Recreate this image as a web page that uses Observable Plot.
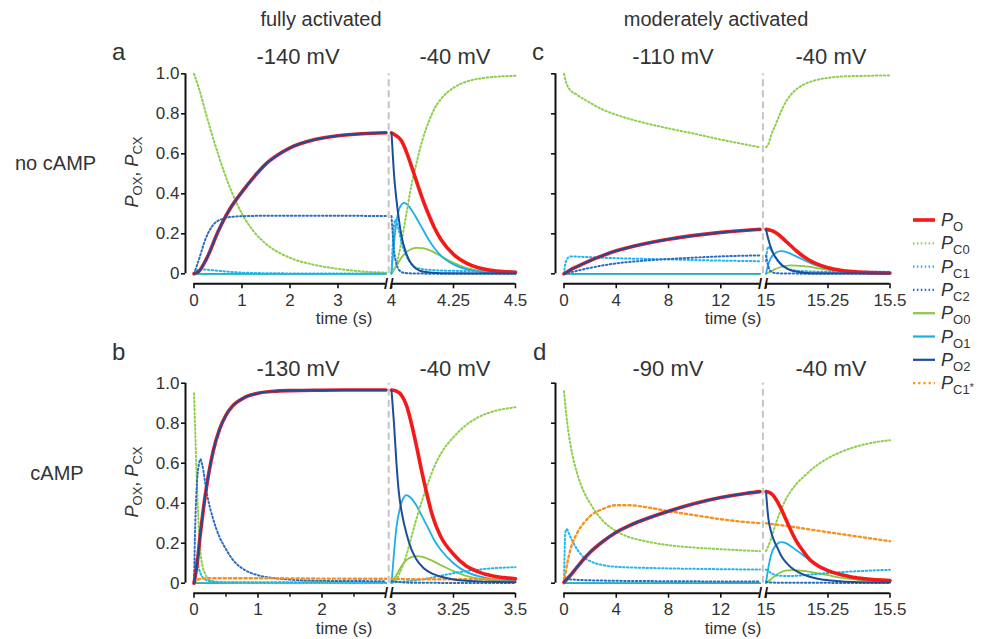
<!DOCTYPE html>
<html><head><meta charset="utf-8">
<script src="https://cdn.jsdelivr.net/npm/d3@7"></script>
<script src="https://cdn.jsdelivr.net/npm/@observablehq/plot@0.6"></script>
<style>
html,body{margin:0;padding:0;background:#fff;}
#root{position:relative;width:988px;height:639px;overflow:hidden;}
</style></head><body><div id="root"></div>
<script>
// ---------------- DATA ----------------
const colTitles = ["fully activated", "moderately activated"];
const rowLabels = ["no cAMP", "cAMP"];
const panelLetters = ["a", "b", "c", "d"];
const holdLabels = ["-140 mV", "-130 mV", "-110 mV", "-90 mV"];
const stepLabel = "-40 mV";
const timeLabel = "time (s)";
const yTicks = [0, 0.2, 0.4, 0.6, 0.8, 1.0];
const aDomL = [0, 4], aDomR = [4, 4.5], aTicksL = [0, 1, 2, 3], aTicksR = [4, 4.25, 4.5];
const bDomL = [0, 3], bDomR = [3, 3.5], bTicksL = [0, 1, 2], bMinorL = [0.5, 1.5, 2.5], bTicksR = [3, 3.25, 3.5];
const cdDomL = [0, 15], cdDomR = [15, 15.5], cdTicksL = [0, 4, 8, 12], cdTicksR = [15, 15.25, 15.5];
const seriesKeys = ["PO", "PC0", "PC1", "PC2", "PO0", "PO1", "PO2", "PC1s"];
const seriesSubs = ["O", "C0", "C1", "C2", "O0", "O1", "O2", "C1"];

// panel a (no cAMP, -140 mV)
const aL_PO = [[0,0],[0.1,0.012],[0.25,0.07],[0.5,0.21],[0.6,0.26],[0.75,0.325],[1,0.41],[1.25,0.485],[1.5,0.55],[1.75,0.595],[2,0.63],[2.5,0.67],[3,0.69],[3.5,0.7],[4,0.705]];
const aL_PO2 = [[0,0],[0.1,0.012],[0.25,0.07],[0.5,0.21],[0.6,0.26],[0.75,0.325],[1,0.41],[1.25,0.485],[1.5,0.55],[1.75,0.595],[2,0.63],[2.5,0.67],[3,0.69],[3.5,0.7],[4,0.705]];
const aL_PC0 = [[0,1.0],[0.1,0.93],[0.25,0.8],[0.5,0.6],[0.75,0.43],[1,0.3],[1.25,0.21],[1.5,0.15],[2,0.08],[2.5,0.045],[3,0.025],[3.5,0.012],[4,0.006]];
const aL_PC1 = [[0,0],[0.05,0.015],[0.15,0.022],[0.3,0.02],[0.5,0.015],[0.75,0.01],[1,0.006],[1.5,0.003],[2,0.002],[4,0.001]];
const aL_PC2 = [[0,0],[0.1,0.07],[0.25,0.18],[0.4,0.245],[0.6,0.275],[0.8,0.285],[1,0.288],[1.5,0.29],[2,0.29],[3,0.29],[4,0.289]];
const aL_PO0 = [[0,0],[4,0]];
const aL_PO1 = [[0,0],[4,0]];
const aR_PO = [[4,0.705],[4.02,0.69],[4.04,0.665],[4.06,0.61],[4.08,0.54],[4.1,0.465],[4.125,0.375],[4.15,0.295],[4.175,0.225],[4.2,0.17],[4.25,0.097],[4.3,0.055],[4.35,0.03],[4.4,0.018],[4.45,0.011],[4.5,0.008]];
const aR_PO2 = [[4,0.705],[4.005,0.6],[4.01,0.5],[4.02,0.37],[4.03,0.27],[4.04,0.19],[4.06,0.1],[4.08,0.05],[4.1,0.025],[4.13,0.01],[4.2,0.003],[4.5,0.001]];
const aR_PO1 = [[4,0],[4.01,0.15],[4.02,0.26],[4.03,0.32],[4.04,0.345],[4.05,0.355],[4.06,0.35],[4.08,0.32],[4.1,0.28],[4.125,0.225],[4.15,0.17],[4.175,0.125],[4.2,0.09],[4.25,0.047],[4.3,0.023],[4.35,0.012],[4.4,0.006],[4.5,0.002]];
const aR_PO0 = [[4,0],[4.02,0.04],[4.04,0.08],[4.06,0.108],[4.08,0.124],[4.1,0.13],[4.125,0.128],[4.15,0.12],[4.2,0.088],[4.25,0.055],[4.3,0.03],[4.35,0.016],[4.4,0.008],[4.5,0.003]];
const aR_PC0 = [[4,0.006],[4.02,0.05],[4.04,0.16],[4.06,0.3],[4.08,0.44],[4.1,0.55],[4.125,0.67],[4.15,0.76],[4.175,0.83],[4.2,0.875],[4.25,0.93],[4.3,0.96],[4.35,0.975],[4.4,0.983],[4.5,0.99]];
const aR_PC1 = [[4,0.001],[4.005,0.15],[4.01,0.24],[4.015,0.27],[4.025,0.24],[4.04,0.16],[4.06,0.09],[4.08,0.05],[4.1,0.03],[4.15,0.02],[4.25,0.015],[4.5,0.012]];
const aR_PC2 = [[4,0.289],[4.005,0.2],[4.01,0.12],[4.02,0.05],[4.03,0.02],[4.05,0.005],[4.1,0.001],[4.5,0]];

// panel b (cAMP, -130 mV)
const bL_PO = [[0,0],[0.05,0.1],[0.1,0.25],[0.15,0.38],[0.2,0.49],[0.3,0.66],[0.4,0.77],[0.5,0.84],[0.6,0.885],[0.8,0.93],[1,0.95],[1.25,0.96],[1.5,0.963],[2,0.965],[2.5,0.966],[3,0.966]];
const bL_PO2 = [[0,0],[0.05,0.1],[0.1,0.25],[0.15,0.38],[0.2,0.49],[0.3,0.66],[0.4,0.77],[0.5,0.84],[0.6,0.885],[0.8,0.93],[1,0.95],[1.25,0.96],[1.5,0.963],[2,0.965],[2.5,0.966],[3,0.966]];
const bL_PC0 = [[0,0.95],[0.02,0.75],[0.04,0.55],[0.06,0.38],[0.08,0.25],[0.1,0.16],[0.13,0.09],[0.17,0.05],[0.25,0.015],[0.4,0.005],[1,0.002],[3,0.002]];
const bL_PC1 = [[0,0],[0.02,0.1],[0.04,0.12],[0.07,0.08],[0.1,0.05],[0.15,0.025],[0.25,0.01],[0.5,0.005],[3,0.004]];
const bL_PC2 = [[0,0],[0.02,0.3],[0.05,0.52],[0.08,0.6],[0.1,0.62],[0.13,0.59],[0.2,0.45],[0.3,0.32],[0.4,0.23],[0.5,0.17],[0.6,0.12],[0.8,0.065],[1,0.04],[1.25,0.025],[1.5,0.018],[2,0.012],[3,0.01]];
const bL_PC1s = [[0,0],[0.05,0.015],[0.1,0.022],[0.3,0.025],[1,0.025],[2,0.023],[3,0.022]];
const bL_PO0 = [[0,0],[3,0]];
const bL_PO1 = [[0,0],[3,0]];
const bR_PO = [[3,0.966],[3.02,0.96],[3.04,0.94],[3.06,0.89],[3.08,0.8],[3.1,0.69],[3.12,0.57],[3.14,0.46],[3.16,0.36],[3.18,0.285],[3.2,0.23],[3.25,0.145],[3.3,0.087],[3.35,0.057],[3.4,0.038],[3.45,0.028],[3.5,0.022]];
const bR_PO2 = [[3,0.966],[3.01,0.8],[3.02,0.6],[3.03,0.45],[3.045,0.33],[3.06,0.25],[3.08,0.17],[3.1,0.12],[3.13,0.075],[3.17,0.045],[3.2,0.032],[3.25,0.019],[3.3,0.012],[3.4,0.007],[3.5,0.005]];
const bR_PO1 = [[3,0],[3.01,0.15],[3.02,0.28],[3.035,0.38],[3.05,0.43],[3.06,0.44],[3.075,0.43],[3.1,0.39],[3.125,0.33],[3.15,0.27],[3.175,0.21],[3.2,0.165],[3.25,0.1],[3.3,0.058],[3.35,0.035],[3.4,0.022],[3.5,0.012]];
const bR_PO0 = [[3,0],[3.02,0.04],[3.04,0.085],[3.06,0.115],[3.08,0.13],[3.1,0.135],[3.125,0.132],[3.15,0.12],[3.2,0.09],[3.25,0.06],[3.3,0.037],[3.35,0.024],[3.4,0.016],[3.5,0.008]];
const bR_PC0 = [[3,0.002],[3.02,0.02],[3.04,0.07],[3.06,0.14],[3.08,0.23],[3.1,0.32],[3.125,0.42],[3.15,0.51],[3.175,0.59],[3.2,0.65],[3.25,0.73],[3.3,0.79],[3.35,0.83],[3.4,0.855],[3.5,0.88]];
const bR_PC1 = [[3,0.004],[3.05,0.008],[3.1,0.015],[3.15,0.025],[3.2,0.038],[3.25,0.05],[3.3,0.06],[3.35,0.068],[3.4,0.074],[3.5,0.08]];
const bR_PC2 = [[3,0.01],[3.03,0.006],[3.06,0.003],[3.1,0.002],[3.5,0.001]];
const bR_PC1s = [[3,0.022],[3.1,0.02],[3.2,0.02],[3.3,0.02],[3.5,0.02]];

// panel c (no cAMP, -110 mV)
const cL_PO = [[0,0],[0.5,0.02],[1,0.036],[2,0.066],[3,0.092],[4,0.115],[6,0.148],[8,0.173],[10,0.192],[12,0.207],[14,0.218],[15,0.222]];
const cL_PO2 = [[0,0],[0.5,0.02],[1,0.036],[2,0.066],[3,0.092],[4,0.115],[6,0.148],[8,0.173],[10,0.192],[12,0.207],[14,0.218],[15,0.222]];
const cL_PC0 = [[0,1.0],[0.15,0.96],[0.4,0.925],[1,0.895],[2,0.855],[3,0.82],[4,0.795],[6,0.757],[8,0.727],[10,0.7],[12,0.671],[14,0.645],[15,0.633]];
const cL_PC1 = [[0,0],[0.1,0.05],[0.3,0.08],[0.6,0.087],[1,0.086],[2,0.083],[4,0.078],[8,0.072],[12,0.066],[15,0.063]];
const cL_PC2 = [[0,0],[1,0.015],[2,0.03],[4,0.052],[6,0.065],[8,0.074],[10,0.081],[12,0.087],[15,0.092]];
const cL_PO0 = [[0,0],[15,0]];
const cL_PO1 = [[0,0],[15,0]];
const cR_PO = [[15,0.222],[15.02,0.217],[15.04,0.205],[15.06,0.186],[15.08,0.163],[15.1,0.14],[15.125,0.112],[15.15,0.088],[15.175,0.068],[15.2,0.052],[15.25,0.03],[15.3,0.018],[15.35,0.011],[15.4,0.007],[15.5,0.004]];
const cR_PO2 = [[15,0.222],[15.01,0.17],[15.02,0.13],[15.03,0.1],[15.045,0.07],[15.06,0.048],[15.08,0.03],[15.1,0.018],[15.13,0.009],[15.18,0.003],[15.5,0.001]];
const cR_PO1 = [[15,0],[15.01,0.05],[15.02,0.08],[15.04,0.105],[15.06,0.113],[15.08,0.11],[15.1,0.1],[15.15,0.07],[15.2,0.043],[15.25,0.025],[15.3,0.013],[15.4,0.004],[15.5,0.002]];
const cR_PO0 = [[15,0],[15.02,0.012],[15.04,0.025],[15.06,0.034],[15.08,0.04],[15.1,0.042],[15.15,0.038],[15.2,0.03],[15.25,0.02],[15.3,0.012],[15.4,0.005],[15.5,0.002]];
const cR_PC0 = [[15,0.633],[15.01,0.65],[15.02,0.69],[15.04,0.75],[15.06,0.81],[15.08,0.86],[15.1,0.895],[15.125,0.925],[15.15,0.945],[15.2,0.968],[15.25,0.98],[15.3,0.986],[15.4,0.99],[15.5,0.992]];
const cR_PC1 = [[15,0.063],[15.005,0.12],[15.01,0.135],[15.02,0.12],[15.04,0.08],[15.06,0.05],[15.08,0.03],[15.1,0.02],[15.15,0.013],[15.25,0.01],[15.5,0.01]];
const cR_PC2 = [[15,0.092],[15.005,0.06],[15.01,0.035],[15.02,0.012],[15.04,0.003],[15.1,0.001],[15.5,0]];

// panel d (cAMP, -90 mV)
const dL_PO = [[0,0.005],[0.5,0.04],[1,0.08],[1.5,0.12],[2,0.155],[3,0.21],[4,0.255],[5,0.288],[6,0.315],[8,0.36],[10,0.398],[12,0.428],[14,0.45],[15,0.458]];
const dL_PO2 = [[0,0.005],[0.5,0.04],[1,0.08],[1.5,0.12],[2,0.155],[3,0.21],[4,0.255],[5,0.288],[6,0.315],[8,0.36],[10,0.398],[12,0.428],[14,0.45],[15,0.458]];
const dL_PC0 = [[0,0.96],[0.25,0.8],[0.5,0.69],[1,0.55],[1.5,0.46],[2,0.4],[3,0.31],[4,0.26],[5,0.23],[6,0.213],[8,0.19],[10,0.178],[12,0.17],[15,0.16]];
const dL_PC1 = [[0,0],[0.1,0.25],[0.2,0.27],[0.5,0.23],[1,0.17],[1.5,0.13],[2,0.11],[3,0.09],[4,0.082],[6,0.077],[8,0.074],[12,0.07],[15,0.068]];
const dL_PC2 = [[0,0],[0.2,0.02],[1,0.017],[4,0.012],[8,0.01],[15,0.008]];
const dL_PC1s = [[0,0],[0.25,0.1],[0.5,0.17],[1,0.25],[1.5,0.3],[2,0.335],[3,0.372],[4,0.39],[5,0.39],[6,0.383],[8,0.36],[10,0.34],[12,0.32],[14,0.305],[15,0.3]];
const dL_PO0 = [[0,0],[15,0]];
const dL_PO1 = [[0,0],[15,0]];
const dR_PO = [[15,0.458],[15.02,0.45],[15.04,0.42],[15.06,0.375],[15.08,0.32],[15.1,0.265],[15.125,0.205],[15.15,0.16],[15.175,0.12],[15.2,0.095],[15.25,0.063],[15.3,0.043],[15.35,0.03],[15.4,0.022],[15.5,0.013]];
const dR_PO2 = [[15,0.458],[15.005,0.38],[15.01,0.32],[15.02,0.26],[15.03,0.22],[15.045,0.18],[15.06,0.14],[15.08,0.105],[15.1,0.08],[15.13,0.055],[15.17,0.035],[15.2,0.025],[15.25,0.015],[15.35,0.006],[15.5,0.003]];
const dR_PO1 = [[15,0],[15.01,0.08],[15.02,0.14],[15.04,0.19],[15.06,0.205],[15.08,0.2],[15.1,0.185],[15.15,0.14],[15.2,0.095],[15.25,0.062],[15.3,0.04],[15.4,0.018],[15.5,0.008]];
const dR_PO0 = [[15,0],[15.02,0.02],[15.04,0.04],[15.06,0.055],[15.08,0.063],[15.1,0.065],[15.15,0.062],[15.2,0.052],[15.25,0.04],[15.3,0.028],[15.4,0.013],[15.5,0.006]];
const dR_PC0 = [[15,0.16],[15.02,0.22],[15.04,0.3],[15.06,0.365],[15.08,0.42],[15.1,0.46],[15.125,0.5],[15.15,0.53],[15.2,0.585],[15.25,0.625],[15.3,0.655],[15.35,0.678],[15.4,0.695],[15.5,0.715]];
const dR_PC1 = [[15,0.068],[15.01,0.06],[15.03,0.045],[15.06,0.037],[15.1,0.036],[15.15,0.04],[15.2,0.046],[15.3,0.055],[15.4,0.062],[15.5,0.067]];
const dR_PC2 = [[15,0.008],[15.02,0.003],[15.5,0.001]];
const dR_PC1s = [[15,0.3],[15.1,0.283],[15.25,0.255],[15.4,0.228],[15.5,0.21]];

// ---------------- STYLE / LAYOUT ----------------
const W = 988, H = 639;
const FONT = "'Liberation Sans', Arial, Helvetica, sans-serif";
const STYLE = {
  PO:   {stroke: "#f41a1a", width: 3.6},
  PC0:  {stroke: "#8ccf4a", width: 2.0, dash: "1.5,2.4"},
  PC1:  {stroke: "#22b4ee", width: 2.0, dash: "1.5,2.4"},
  PC2:  {stroke: "#2a6cc2", width: 2.0, dash: "1.5,2.4"},
  PO0:  {stroke: "#8cc63f", width: 1.8},
  PO1:  {stroke: "#19b0ea", width: 1.8},
  PO2:  {stroke: "#1a4e9c", width: 2.0},
  PC1s: {stroke: "#f7921e", width: 2.4, dash: "2.2,3"}
};
const drawOrder = ["PO0", "PO1", "PC0", "PC1", "PC2", "PC1s", "PO", "PO2"];
const LAYOUT = {
  rows: {top: {y0: 273.3, y1: 73.3, axis: 283.3}, bottom: {y0: 582.7, y1: 382.7, axis: 592.7}},
  cols: {left: {yAxisX: 185, L: [193.5, 385.5], R: [391, 515], sep: 388.2},
         right: {yAxisX: 555, L: [563.5, 759.5], R: [765.5, 889.5], sep: 762.4}}
};

const panels = [
  {row: "top", col: "left", showY: true, domL: aDomL, domR: aDomR, ticksL: aTicksL, ticksR: aTicksR, minorL: null,
   L: {PO: aL_PO, PO2: aL_PO2, PC0: aL_PC0, PC1: aL_PC1, PC2: aL_PC2, PO0: aL_PO0, PO1: aL_PO1},
   R: {PO: aR_PO, PO2: aR_PO2, PO1: aR_PO1, PO0: aR_PO0, PC0: aR_PC0, PC1: aR_PC1, PC2: aR_PC2}},
  {row: "bottom", col: "left", showY: true, domL: bDomL, domR: bDomR, ticksL: bTicksL, ticksR: bTicksR, minorL: bMinorL,
   L: {PO: bL_PO, PO2: bL_PO2, PC0: bL_PC0, PC1: bL_PC1, PC2: bL_PC2, PC1s: bL_PC1s, PO0: bL_PO0, PO1: bL_PO1},
   R: {PO: bR_PO, PO2: bR_PO2, PO1: bR_PO1, PO0: bR_PO0, PC0: bR_PC0, PC1: bR_PC1, PC2: bR_PC2, PC1s: bR_PC1s}},
  {row: "top", col: "right", showY: false, domL: cdDomL, domR: cdDomR, ticksL: cdTicksL, ticksR: cdTicksR, minorL: null,
   L: {PO: cL_PO, PO2: cL_PO2, PC0: cL_PC0, PC1: cL_PC1, PC2: cL_PC2, PO0: cL_PO0, PO1: cL_PO1},
   R: {PO: cR_PO, PO2: cR_PO2, PO1: cR_PO1, PO0: cR_PO0, PC0: cR_PC0, PC1: cR_PC1, PC2: cR_PC2}},
  {row: "bottom", col: "right", showY: false, domL: cdDomL, domR: cdDomR, ticksL: cdTicksL, ticksR: cdTicksR, minorL: null,
   L: {PO: dL_PO, PO2: dL_PO2, PC0: dL_PC0, PC1: dL_PC1, PC2: dL_PC2, PC1s: dL_PC1s, PO0: dL_PO0, PO1: dL_PO1},
   R: {PO: dR_PO, PO2: dR_PO2, PO1: dR_PO1, PO0: dR_PO0, PC0: dR_PC0, PC1: dR_PC1, PC2: dR_PC2, PC1s: dR_PC1s}}
];

const root = document.getElementById("root");
const fmtY = d => d === 0 ? "0" : d.toFixed(1);

function makeSub(p, side) {
  const R = LAYOUT.rows[p.row], C = LAYOUT.cols[p.col];
  const xr = C[side];
  const dom = side === "L" ? p.domL : p.domR;
  const ticks = side === "L" ? p.ticksL : p.ticksR;
  const minor = side === "L" ? p.minorL : null;
  const data = p[side];
  const dyAxis = R.axis - R.y0;
  const yLo = yTicks[0], yHi = yTicks[yTicks.length - 1];
  const marks = [];
  marks.push(Plot.ruleY([{y: yLo, x1: dom[0], x2: dom[1]}], {y: "y", x1: "x1", x2: "x2", dy: dyAxis, stroke: "#111", strokeWidth: 2}));
  marks.push(Plot.axisX({anchor: "bottom", ticks, tickSize: 5, tickPadding: 5, stroke: "#111", strokeWidth: 1.6, fill: "#333", fontSize: 17, tickFormat: d => String(d), label: null}));
  if (minor) marks.push(Plot.axisX({anchor: "bottom", ticks: minor, tickSize: 4, stroke: "#111", strokeWidth: 1.4, fill: "none", label: null}));
  marks.push(Plot.text([{x: side === "L" ? dom[1] : dom[0], y: yLo}], {x: "x", y: "y", text: () => "/", dy: dyAxis, fontSize: 15, fontWeight: "bold", fill: "#111"}));
  if (side === "L") {
    marks.push(Plot.ruleX([{x: dom[0], y1: yLo, y2: yHi}], {x: "x", y1: "y1", y2: "y2", dx: C.yAxisX - xr[0], stroke: "#111", strokeWidth: 2}));
    marks.push(Plot.axisY({anchor: "left", ticks: yTicks, tickSize: 4, tickPadding: 2, stroke: "#111", strokeWidth: 1.6, fill: p.showY ? "#333" : "none", fontSize: 17, tickFormat: fmtY, label: null}));
    marks.push(Plot.ruleX([{x: dom[1], y1: yLo, y2: yHi}], {x: "x", y1: "y1", y2: "y2", dx: C.sep - xr[1], stroke: "#c4c4c4", strokeWidth: 2, strokeDasharray: "7,4"}));
  }
  for (const k of drawOrder) {
    if (!data[k]) continue;
    const st = STYLE[k];
    marks.push(Plot.line(data[k], {x: d => d[0], y: d => d[1], stroke: st.stroke, strokeWidth: st.width, strokeDasharray: st.dash, curve: "monotone-x", strokeLinejoin: "round"}));
  }
  const svg = Plot.plot({
    width: W, height: H,
    marginLeft: C.yAxisX, marginRight: W - xr[1], marginTop: R.y1, marginBottom: H - R.axis,
    x: {domain: dom, range: xr, axis: null},
    y: {domain: [yLo, yHi], range: [R.y0, R.y1], axis: null},
    marks
  });
  svg.style.position = "absolute";
  svg.style.left = "0px";
  svg.style.top = "0px";
  svg.style.maxWidth = "none";
  svg.style.overflow = "visible";
  svg.style.background = "transparent";
  svg.style.fontFamily = FONT;
  root.appendChild(svg);
}
for (const p of panels) { makeSub(p, "L"); makeSub(p, "R"); }

// ---------------- TEXT OVERLAY + LEGEND ----------------
const ov = d3.select(root).append("svg").attr("width", W).attr("height", H)
  .style("position", "absolute").style("left", "0px").style("top", "0px")
  .attr("font-family", FONT).attr("fill", "#333");
function txt(x, y, s, size, anchor = "middle") {
  ov.append("text").attr("x", x).attr("y", y).attr("font-size", size).attr("text-anchor", anchor).text(s);
}
txt(321, 26, colTitles[0], 20);
txt(716, 26, colTitles[1], 20);
txt(112, 60, panelLetters[0], 24, "start");
txt(112, 360, panelLetters[1], 24, "start");
txt(532, 60, panelLetters[2], 24, "start");
txt(533, 360, panelLetters[3], 24, "start");
txt(298, 64, holdLabels[0], 22); txt(455, 64, stepLabel, 22);
txt(298, 376, holdLabels[1], 22); txt(455, 376, stepLabel, 22);
txt(673, 64, holdLabels[2], 22); txt(831, 64, stepLabel, 22);
txt(668, 376, holdLabels[3], 22); txt(831, 376, stepLabel, 22);
txt(15, 170, rowLabels[0], 20, "start");
txt(57, 480, rowLabels[1], 20);
txt(344, 324, timeLabel, 17); txt(733, 324, timeLabel, 17);
txt(344, 634, timeLabel, 17); txt(733, 634, timeLabel, 17);

function yLabel(cx, cy) {
  const t = ov.append("text").attr("transform", `translate(${cx},${cy}) rotate(-90)`).attr("text-anchor", "middle").attr("font-size", 18);
  t.append("tspan").attr("font-style", "italic").text("P");
  t.append("tspan").attr("font-size", 13).attr("dy", 4).text("OX");
  t.append("tspan").attr("dy", -4).text(", ");
  t.append("tspan").attr("font-style", "italic").text("P");
  t.append("tspan").attr("font-size", 13).attr("dy", 4).text("CX");
}
yLabel(138, 172);
yLabel(138, 482);

const lg = ov.append("g");
seriesKeys.forEach((k, i) => {
  const y = 220 + i * 23.3;
  const st = STYLE[k];
  lg.append("line").attr("x1", 913).attr("x2", 935).attr("y1", y).attr("y2", y)
    .attr("stroke", st.stroke).attr("stroke-width", k === "PO" ? 3.6 : 2.2)
    .attr("stroke-dasharray", st.dash || null);
  const t = lg.append("text").attr("x", 941).attr("y", y + 6).attr("font-size", 18);
  t.append("tspan").attr("font-style", "italic").text("P");
  t.append("tspan").attr("font-size", 13).attr("dy", 5).text(seriesSubs[i]);
  if (k === "PC1s") t.append("tspan").attr("font-size", 10).attr("dy", -3).text("*");
});
</script></body></html>
